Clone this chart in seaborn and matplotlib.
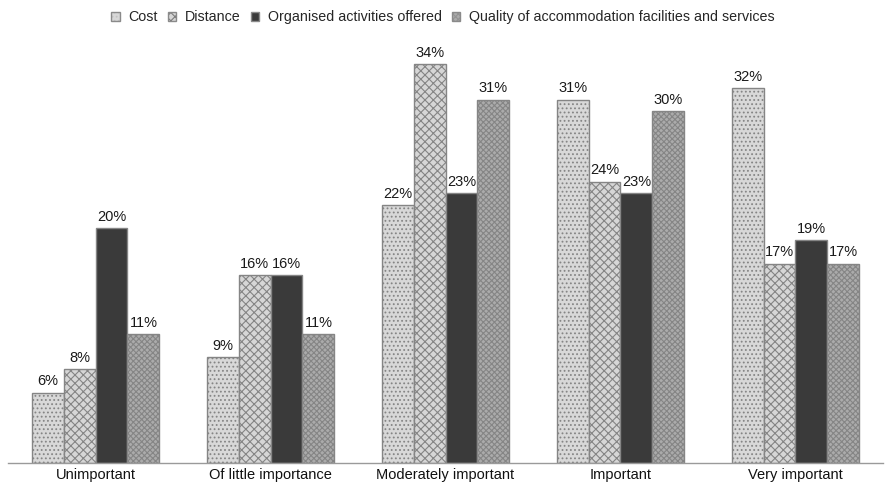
import matplotlib
matplotlib.use("Agg")
import matplotlib.pyplot as plt
from matplotlib.patches import Patch
from matplotlib.colors import to_rgba
import seaborn as sns
import pandas as pd

categories = ["Unimportant", "Of little importance", "Moderately important", "Important", "Very important"]
series = ["Cost", "Distance", "Organised activities offered", "Quality of accommodation facilities and services"]
cost = [6, 9, 22, 31, 32]
distance = [8, 16, 34, 24, 17]
organised = [20, 16, 23, 23, 19]
quality = [11, 11, 31, 30, 17]

rows = []
for name, vals in zip(series, [cost, distance, organised, quality]):
    for cat, v in zip(categories, vals):
        rows.append({"Importance": cat, "Factor": name, "Share": v})
df = pd.DataFrame(rows)

sns.set_theme(style="white")
plt.rcParams["font.family"] = ["Liberation Sans", "DejaVu Sans"]
plt.rcParams["hatch.linewidth"] = 0.8

faces = ["#d8d8d8", "#d6d6d6", "#3a3a3a", "#ababab"]
hatch_cols = ["#c2c2c2", "#7c7c7c", "#303030", "#939393"]
hatches = ["....", "xxxx", "", "xxxxxx"]

fig, ax = plt.subplots(figsize=(8.91, 5.01), dpi=100)
fig.subplots_adjust(left=0.009, right=0.991, top=0.909, bottom=0.076)

sns.barplot(data=df, x="Importance", y="Share", hue="Factor", order=categories,
            hue_order=series, palette=faces, width=0.73, gap=0, ax=ax,
            edgecolor="#858585", linewidth=1.0, legend=False, saturation=1)

for cont, fc, hc, h in zip(ax.containers, faces, hatch_cols, hatches):
    for bar in cont:
        bar.set_facecolor(fc)
        bar.set_hatch(h)
        bar._hatch_color = to_rgba(hc)
        bar.set_edgecolor("#858585")
    ax.bar_label(cont, labels=[f"{int(round(b.get_height()))}%" for b in cont],
                 padding=3, fontsize=10.5, color="#1a1a1a")

ax.set_ylim(0, 35.6)
ax.set_xlim(-0.5, 4.5)
ax.set_xlabel("")
ax.set_ylabel("")
ax.set_yticks([])
ax.tick_params(axis="x", length=0, labelsize=10.5, colors="#111111", pad=4)
for s in ["top", "left", "right"]:
    ax.spines[s].set_visible(False)
ax.spines["bottom"].set_color("#9a9a9a")
ax.spines["bottom"].set_linewidth(1.0)

handles = [Patch(facecolor=fc, edgecolor="#8a8a8a", hatch=h, label=s)
           for fc, h, s in zip(faces, hatches, series)]
leg = fig.legend(handles=handles, loc="upper center", bbox_to_anchor=(0.497, 1.005),
                 ncol=4, frameon=False, fontsize=10.3, handlelength=0.6, handleheight=0.6,
                 handletextpad=0.6, columnspacing=0.7)
for p, hc in zip(leg.get_patches(), hatch_cols):
    p._hatch_color = to_rgba(hc)

fig.savefig("out.png", dpi=100)
